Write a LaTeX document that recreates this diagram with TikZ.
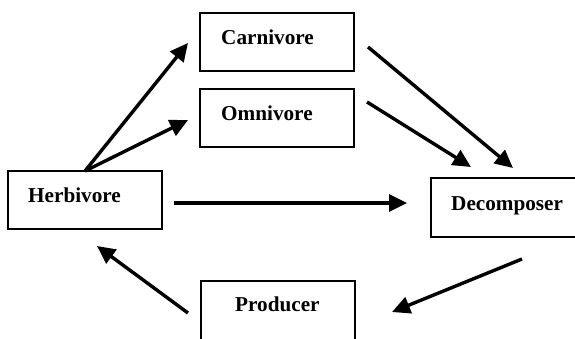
\documentclass[tikz,border=0pt]{standalone}
\usepackage{fontspec}
\setmainfont{Liberation Serif}
\usetikzlibrary{arrows.meta}
\begin{document}
\begin{tikzpicture}[x=1pt,y=-1pt,
  box/.style={draw=black,line width=2pt},
  lbl/.style={anchor=base west,inner sep=0pt,font=\fontsize{21.2}{25}\selectfont\bfseries},
  arr/.style={line width=3.4pt,-{Triangle[length=18pt,width=17pt]}}]
\clip (0,0) rectangle (575,339);
\fill[white] (0,0) rectangle (575,339);
% boxes
\draw[box] (200,13) rectangle (354,71);
\draw[box] (200,89) rectangle (354,147);
\draw[box] (8,171) rectangle (162,229);
\draw[box] (431,178) rectangle (590,237);
\draw[box] (201,281) rectangle (355,350);
% labels
\node[lbl] (carn) at (221,45) {Carnivore};
\node[lbl] (omni) at (221,121) {Omnivore};
\node[lbl] (herb) at (28,202) {Herbivore};
\node[lbl] (deco) at (451,210) {Decomposer};
\node[lbl] (prod) at (235,311) {Producer};
% connector ends
\coordinate (hTop) at (85,171);
\coordinate (cIn) at (188,43);
\coordinate (oIn) at (188,120);
\coordinate (cOut) at (368,47);
\coordinate (dInC) at (513,168);
\coordinate (oOut) at (367,102);
\coordinate (dInO) at (471,167);
\coordinate (hOut) at (174,203);
\coordinate (dInH) at (407,203);
\coordinate (dOut) at (522,259);
\coordinate (pIn) at (392,312);
\coordinate (pOut) at (188,313);
\coordinate (hIn) at (97,246);
% arrows
\draw[arr] (hTop) -- (cIn);
\draw[arr] (hTop) -- (oIn);
\draw[arr] (cOut) -- (dInC);
\draw[arr] (oOut) -- (dInO);
\draw[arr] (hOut) -- (dInH);
\draw[arr] (dOut) -- (pIn);
\draw[arr] (pOut) -- (hIn);
\end{tikzpicture}
\end{document}
